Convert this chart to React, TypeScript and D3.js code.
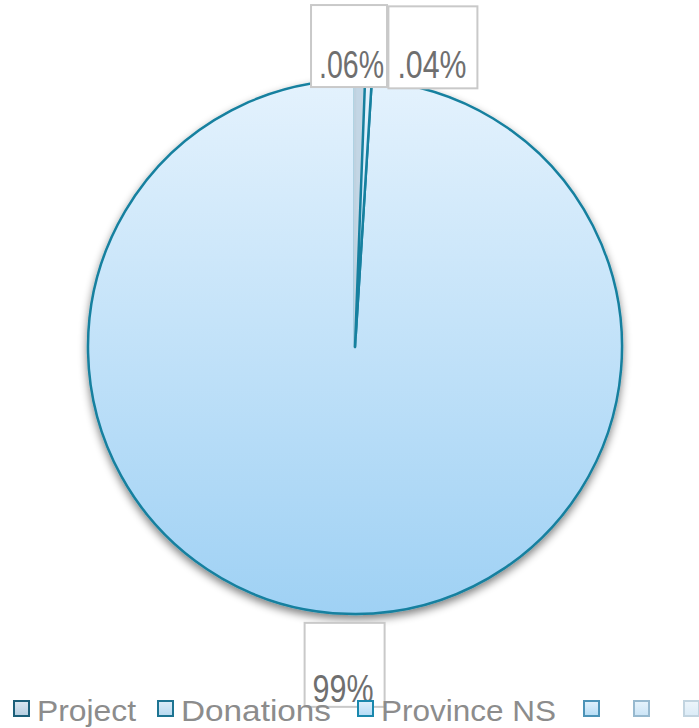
import React, { useRef, useEffect } from 'react';
import * as d3 from 'd3';

// chart data
const categories = ['Project', 'Donations', 'Province NS', '', '', ''];
const values = [0.6, 0.4, 99];
const valueLabels = ['.06%', '.04%', '99%'];

// styles
const sliceFill = ['#c3d6e5', 'url(#bigFill)', 'url(#bigFill)'];
const sliceStroke = ['#bfd2e0', '#15809f', '#15809f'];
const legendFillTop = ['#dbe7f1', '#dcecf8', '#dff0fc', '#e1f1fc', '#e6f3fc', '#edf5fb'];
const legendFillBottom = ['#b5cde0', '#b7d9f0', '#b3dbf6', '#b5dcf5', '#cbe4f6', '#dbebf7'];
const legendStroke = ['#1c5f79', '#1d7492', '#1a88ad', '#4c93b7', '#97b9cf', '#c2d4e0'];

// label placement relative to the slice's outer point
const labelLayout = [
  { dx: -49, dy: -75, w: 76, h: 82, tx: 8, ty: 73, tw: 65 },
  { dx: 20, dy: -74, w: 89, h: 82, tx: 9, ty: 72, tw: 69 },
  { dx: -42, dy: 9, w: 80, h: 84, tx: 8, ty: 79, tw: 61 },
];
const legendX = [14, 158, 358, 584, 634, 684];
const legendTextW = [99, 150, 175, 0, 0, 0];

const W = 699;
const H = 728;

const App = () => {
  const svgRef = useRef<SVGSVGElement>(null);

  useEffect(() => {
    if (!svgRef.current) return;
    const svg = d3.select(svgRef.current);
    svg.selectAll('*').remove();

    const cx = 355, cy = 347, r = 267;
    const defs = svg.append('defs');

    // gradient in the pie group's local coordinates
    const grad = defs.append('linearGradient')
      .attr('id', 'bigFill')
      .attr('gradientUnits', 'userSpaceOnUse')
      .attr('x1', 0).attr('x2', 0)
      .attr('y1', -r).attr('y2', r);
    grad.append('stop').attr('offset', '0%').attr('stop-color', '#e4f2fd');
    grad.append('stop').attr('offset', '100%').attr('stop-color', '#9fd1f4');

    // soft shadow under the pie
    const filter = defs.append('filter').attr('id', 'shadow')
      .attr('x', '-10%').attr('y', '-10%').attr('width', '120%').attr('height', '130%');
    filter.append('feGaussianBlur').attr('in', 'SourceAlpha').attr('stdDeviation', 4).attr('result', 'blur');
    filter.append('feOffset').attr('in', 'blur').attr('dy', 4).attr('result', 'off');
    const ct = filter.append('feComponentTransfer').attr('in', 'off').attr('result', 'soft');
    ct.append('feFuncA').attr('type', 'linear').attr('slope', 0.5);
    const merge = filter.append('feMerge');
    merge.append('feMergeNode').attr('in', 'soft');
    merge.append('feMergeNode').attr('in', 'SourceGraphic');

    categories.forEach((_, i) => {
      const lg = defs.append('linearGradient')
        .attr('id', `leg${i}`)
        .attr('x1', 0).attr('x2', 0).attr('y1', 0).attr('y2', 1);
      lg.append('stop').attr('offset', '0%').attr('stop-color', legendFillTop[i]);
      lg.append('stop').attr('offset', '100%').attr('stop-color', legendFillBottom[i]);
    });

    const pie = d3.pie<number>().sort(null).value(d => d);
    const arcs = pie(values);
    const arc = d3.arc<d3.PieArcDatum<number>>().innerRadius(0).outerRadius(r);
    const outerArc = d3.arc<d3.PieArcDatum<number>>().innerRadius(r).outerRadius(r);

    const pieG = svg.append('g')
      .attr('transform', `translate(${cx},${cy})`)
      .attr('filter', 'url(#shadow)');

    // draw the big slice first, then the thin ones on top
    const order = [2, 0, 1];
    order.forEach(i => {
      pieG.append('path')
        .attr('d', arc(arcs[i]) as string)
        .attr('fill', sliceFill[i])
        .attr('stroke', sliceStroke[i])
        .attr('stroke-width', 2.5)
        .attr('stroke-linejoin', 'round');
    });

    // data labels
    const labG = svg.append('g');
    arcs.forEach((a, i) => {
      const [px, py] = outerArc.centroid(a);
      const L = labelLayout[i];
      const left = cx + px + L.dx;
      const top = cy + py + L.dy;
      labG.append('rect')
        .attr('x', left).attr('y', top)
        .attr('width', L.w).attr('height', L.h)
        .attr('fill', '#fff')
        .attr('stroke', '#c9c9c9')
        .attr('stroke-width', 2);
      labG.append('text')
        .attr('x', left + L.tx)
        .attr('y', top + L.ty)
        .attr('font-family', 'Liberation Sans, Arial, sans-serif')
        .attr('font-size', 39)
        .attr('fill', '#6f6f6f')
        .attr('textLength', L.tw)
        .attr('lengthAdjust', 'spacingAndGlyphs')
        .text(valueLabels[i]);
    });

    // legend
    const legG = svg.append('g');
    categories.forEach((c, i) => {
      legG.append('rect')
        .attr('x', legendX[i]).attr('y', 701)
        .attr('width', 15).attr('height', 15)
        .attr('fill', `url(#leg${i})`)
        .attr('stroke', legendStroke[i])
        .attr('stroke-width', 2);
      if (c) {
        legG.append('text')
          .attr('x', legendX[i] + 23)
          .attr('y', 721)
          .attr('font-family', 'Liberation Sans, Arial, sans-serif')
          .attr('font-size', 30)
          .attr('fill', '#8c8c8c')
          .attr('textLength', legendTextW[i])
          .attr('lengthAdjust', 'spacingAndGlyphs')
          .text(c);
      }
    });
  }, []);

  return (
    <div style={{ position: 'absolute', left: 0, top: 0, width: W, height: H, background: '#fff' }}>
      <svg ref={svgRef} width={W} height={H} viewBox={`0 0 ${W} ${H}`} style={{ display: 'block' }} />
    </div>
  );
};

export default App;
